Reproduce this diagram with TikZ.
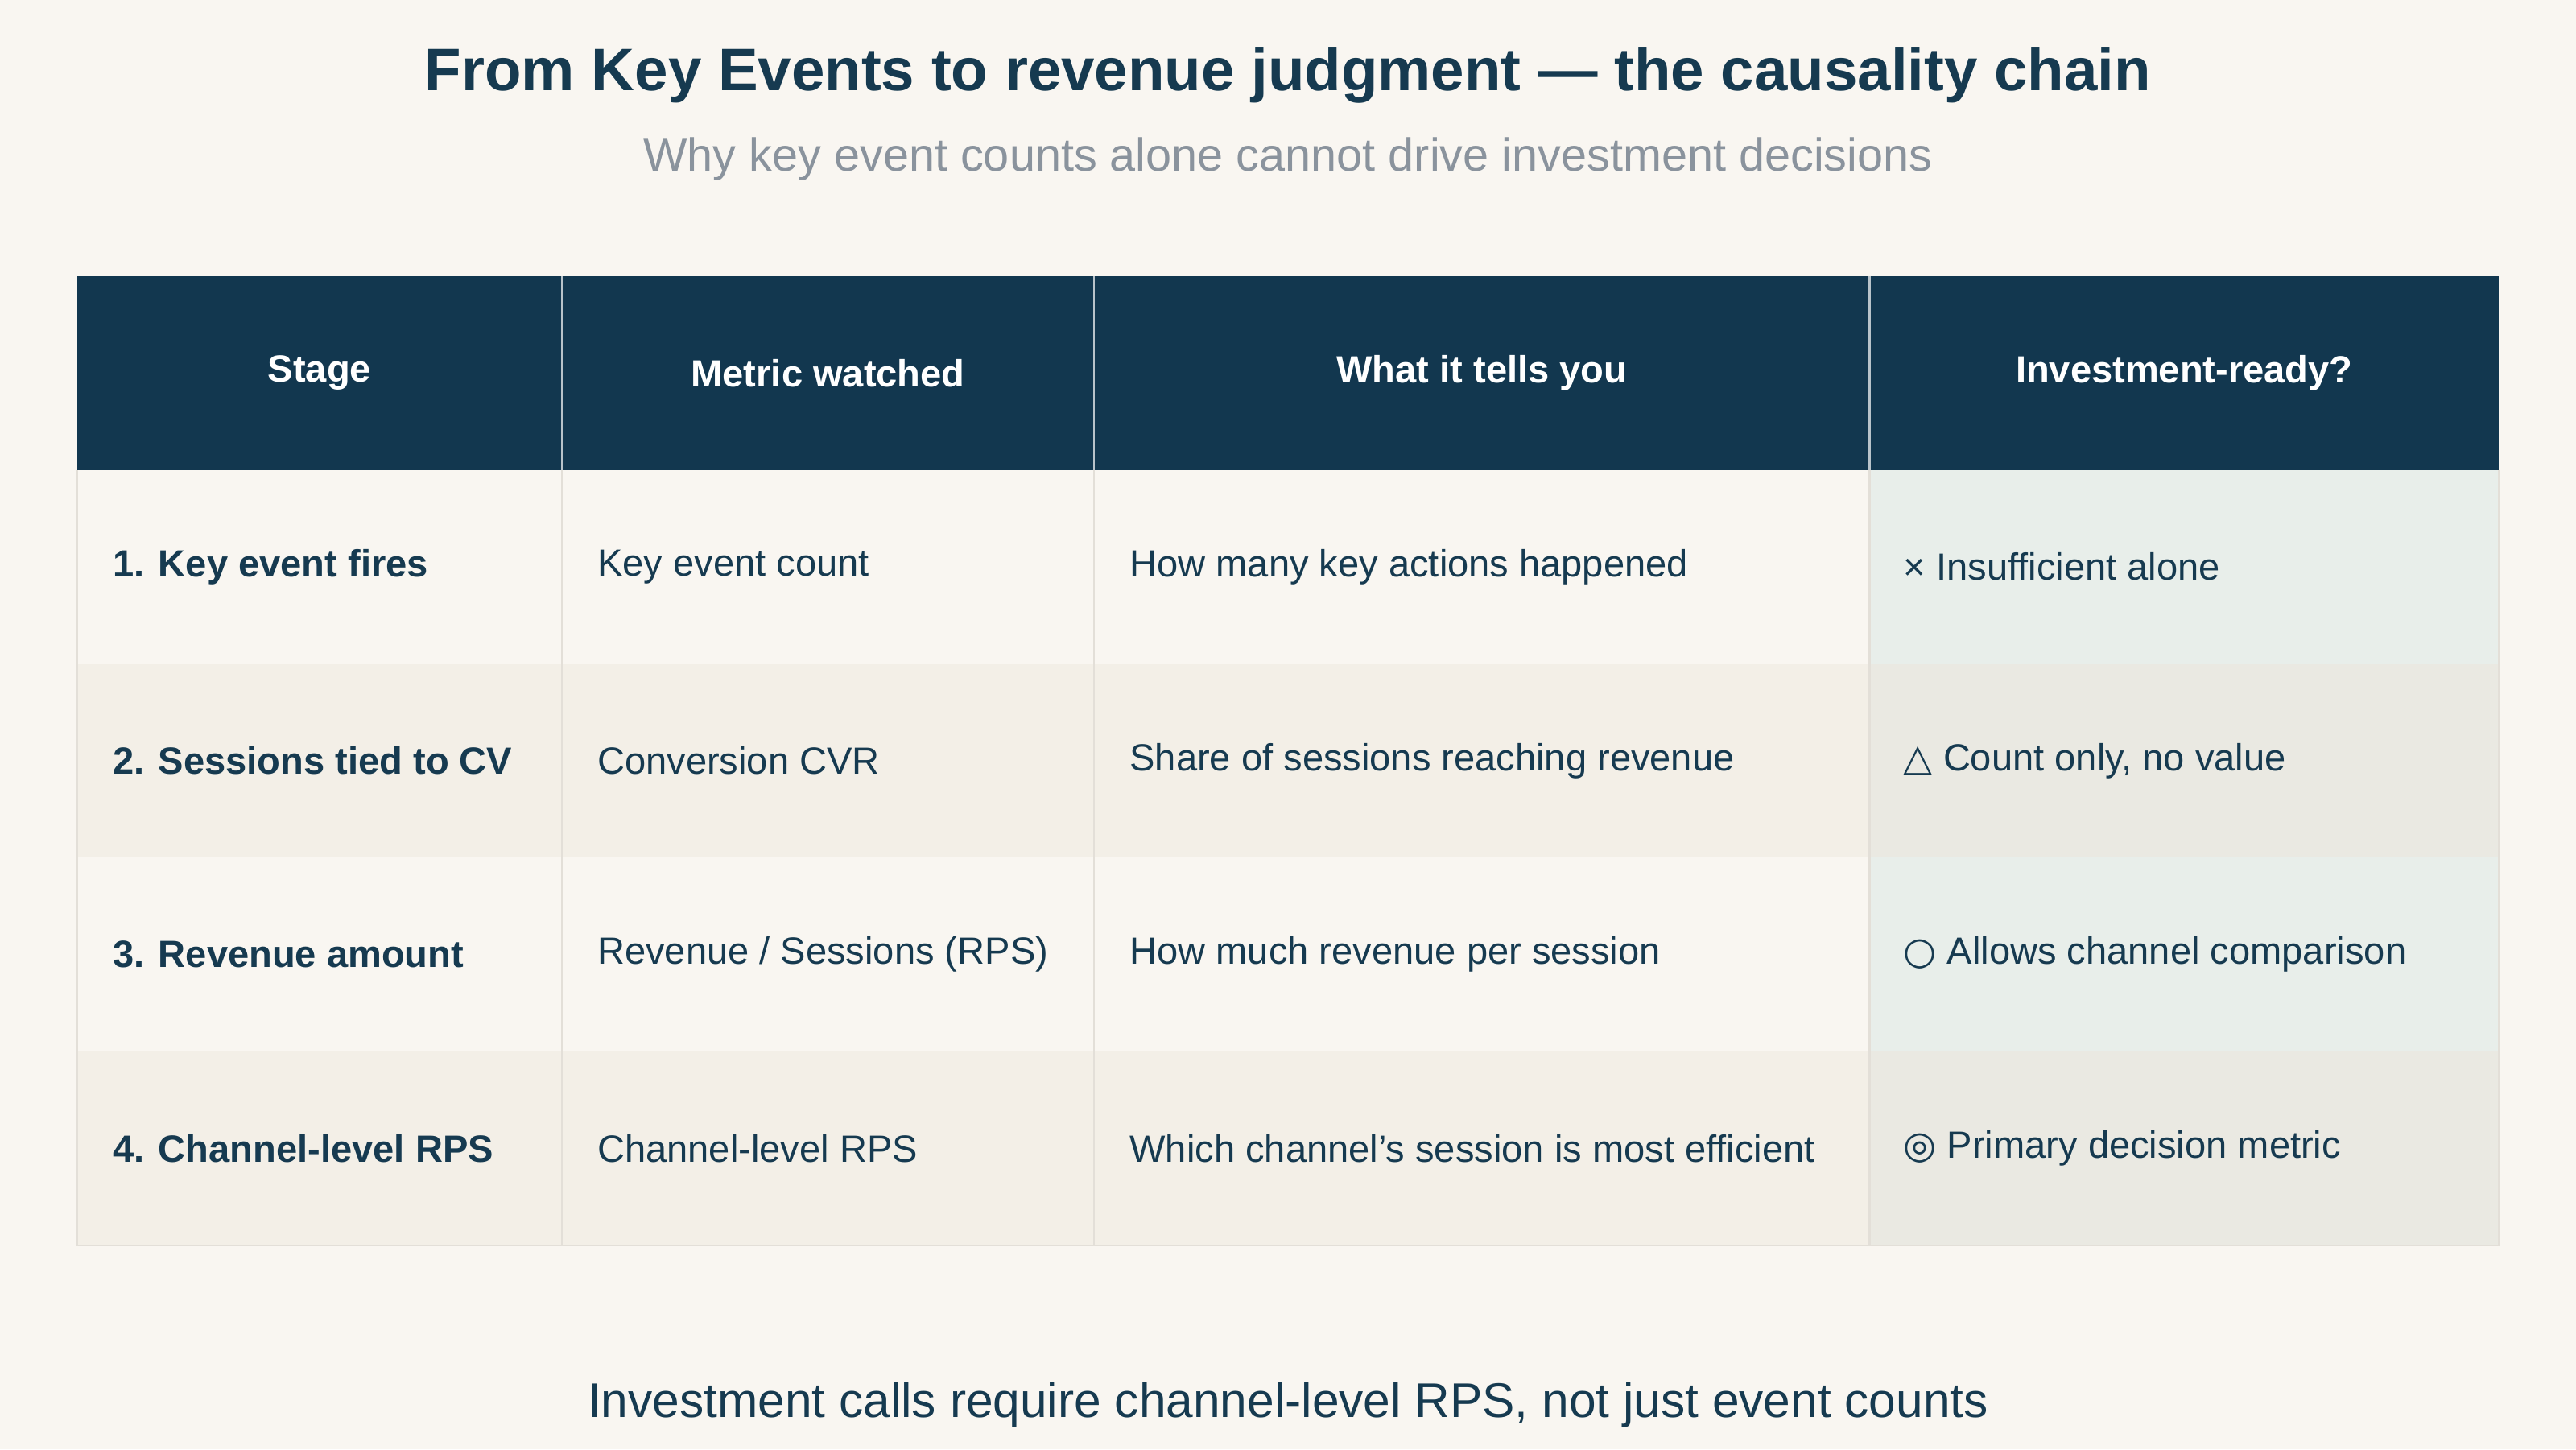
\documentclass[tikz,border=0pt]{standalone}
\usepackage{fontspec}
\setmainfont{Liberation Sans}
\newfontfamily\symfont{DejaVu Sans}
\usetikzlibrary{positioning}
\definecolor{bgcol}{HTML}{F9F6F1}
\definecolor{navy}{HTML}{12374F}
\definecolor{ink}{HTML}{163A50}
\definecolor{greytxt}{HTML}{8A939D}
\definecolor{rowalt}{HTML}{F3EFE7}
\definecolor{tintA}{HTML}{E8EEEA}
\definecolor{tintB}{HTML}{EAE9E2}
\definecolor{gridcol}{HTML}{E3DFD8}
\begin{document}
\begin{tikzpicture}[
    x=0.010204cm, y=-0.010204cm,
    head/.style={text=white, font=\fontsize{6.7}{8}\selectfont\bfseries, anchor=center},
    stagecell/.style={text=ink, font=\fontsize{6.7}{8}\selectfont\bfseries, anchor=west, inner sep=0pt},
    cell/.style={text=ink, font=\fontsize{6.7}{8}\selectfont, anchor=west, inner sep=0pt},
    gridline/.style={draw=gridcol, line width=0.3pt}
]
% Hintergrund
\fill[bgcol] (0,0) rectangle (1568,882);
\useasboundingbox (0,0) rectangle (1568,882);

% Titel
\node[text=ink, font=\fontsize{10.6}{12}\selectfont\bfseries] (title) at (784,46) {From Key Events to revenue judgment — the causality chain};
\node[text=greytxt, font=\fontsize{8.2}{10}\selectfont] (subtitle) at (784,97) {Why key event counts alone cannot drive investment decisions};

% Zeilenhintergründe
\fill[rowalt] (47,404) rectangle (1521,522);
\fill[rowalt] (47,640) rectangle (1521,758);
\fill[tintA] (1138,286) rectangle (1521,404);
\fill[tintB] (1138,404) rectangle (1521,522);
\fill[tintA] (1138,522) rectangle (1521,640);
\fill[tintB] (1138,640) rectangle (1521,758);

% Gitter
\draw[gridline] (342,286) -- (342,758);
\draw[gridline] (666,286) -- (666,758);
\draw[gridline] (1138,286) -- (1138,758);
\draw[gridline] (47,286) -- (47,758);
\draw[gridline] (1521,286) -- (1521,758);
\draw[gridline] (47,758) -- (1521,758);

% Kopfzeile
\fill[navy] (47,168) rectangle (1521,286);
\draw[white!70!navy, line width=0.3pt] (342,168) -- (342,286);
\draw[white!70!navy, line width=0.3pt] (666,168) -- (666,286);
\draw[white!70!navy, line width=0.3pt] (1138,168) -- (1138,286);
\node[head] (hstage) at (194.5,227) {Stage};
\node[head] (hmetric) at (504,227) {Metric watched};
\node[head] (htells) at (902,227) {What it tells you};
\node[head] (hready) at (1329.5,227) {Investment-ready?};

% Zeile 1
\node[stagecell] (s1) at (68,345) {1. Key event fires};
\node[cell] (m1) at (363,345) {Key event count};
\node[cell] (t1) at (687,345) {How many key actions happened};
\node[cell] (r1) at (1158,345) {× Insufficient alone};

% Zeile 2
\node[stagecell] (s2) at (68,463) {2. Sessions tied to CV};
\node[cell] (m2) at (363,463) {Conversion CVR};
\node[cell] (t2) at (687,463) {Share of sessions reaching revenue};
\node[cell] (r2) at (1158,463) {{\symfont △} Count only, no value};

% Zeile 3
\node[stagecell] (s3) at (68,581) {3. Revenue amount};
\node[cell] (m3) at (363,581) {Revenue / Sessions (RPS)};
\node[cell] (t3) at (687,581) {How much revenue per session};
\node[cell] (r3) at (1158,581) {{\symfont ○} Allows channel comparison};

% Zeile 4
\node[stagecell] (s4) at (68,699) {4. Channel-level RPS};
\node[cell] (m4) at (363,699) {Channel-level RPS};
\node[cell] (t4) at (687,699) {Which channel's session is most efficient};
\node[cell] (r4) at (1158,699) {{\symfont ◎} Primary decision metric};

% Fazit
\node[text=ink, font=\fontsize{8.6}{10}\selectfont] (footer) at (784,855) {Investment calls require channel-level RPS, not just event counts};
\end{tikzpicture}
\end{document}
